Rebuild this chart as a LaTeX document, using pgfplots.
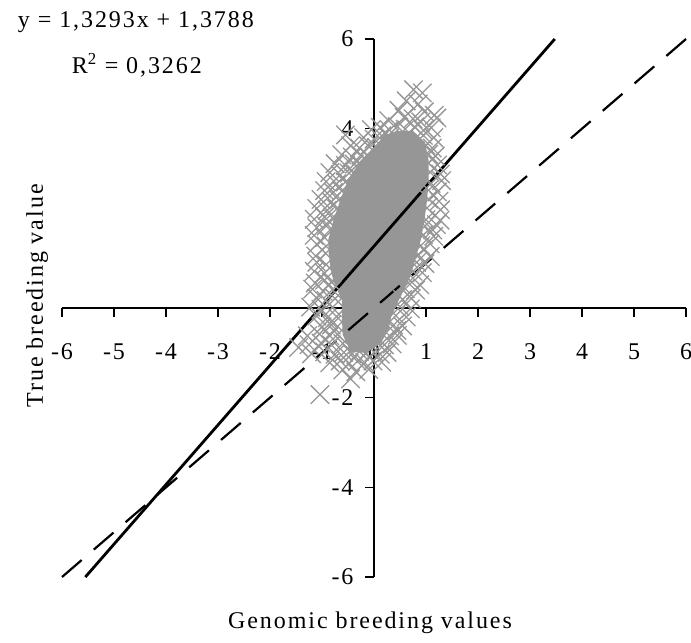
\documentclass[border=0pt]{standalone}
\usepackage{fontspec}
\setmainfont{Liberation Serif}[LetterSpace=8]
\usepackage{pgfplots}
\pgfplotsset{compat=1.18}
\definecolor{crossgray}{RGB}{150,150,150}

\begin{document}
\begin{tikzpicture}
\begin{axis}[
    width=624pt, height=538pt, scale only axis,
    xmin=-6, xmax=6, ymin=-6, ymax=6,
    enlargelimits=false,
    axis lines*=middle,
    axis line style={line width=1.5pt, black},
    tick align=outside,
    major tick length=9pt,
    tick style={line width=1.5pt, black},
    xtick={-6,-5,-4,-3,-2,-1,0,1,2,3,4,5,6},
    xticklabels={-6,-5,-4,-3,-2,-1,0,1,2,3,4,5,6},
    ytick={-6,-4,-2,0,2,4,6},
    yticklabels={-6,-4,-2,0,2,4,6},
    hide obscured x ticks=false, hide obscured y ticks=false,
    tick label style={font=\fontsize{24}{28}\selectfont},
    xticklabel style={yshift=-23pt},
    yticklabel style={xshift=-8pt},
    clip=false,
]
% dense centre of the cloud, where the crosses overlap completely
\addplot[fill=crossgray, draw=none] coordinates {
(0.45,3.95) (0.75,3.95) (0.98,3.70) (1.05,3.30) (1.05,2.86) (1.02,2.40) (0.97,1.96) (0.90,1.52)
(0.80,1.10) (0.70,0.70) (0.48,0.18) (0.33,-0.20) (0.28,-0.49) (0.12,-0.80) (-0.15,-1.00) (-0.45,-0.98)
(-0.60,-0.60) (-0.62,-0.20) (-0.62,0.18) (-0.78,0.60) (-0.83,0.85) (-0.87,1.20) (-0.88,1.52) (-0.78,1.96)
(-0.65,2.40) (-0.50,2.86) (-0.25,3.30) (0.05,3.65) (0.20,3.85) (0.45,3.95)
};
% crosses around the centre and outliers
\addplot[only marks, mark=x, mark size=13pt, mark options={line width=1.3pt, draw=crossgray}] coordinates {
(0.76,4.87) (0.93,4.80) (0.62,4.62) (0.85,4.55) (0.48,4.41) (0.97,4.38) (1.16,4.30)
(0.28,4.18) (0.58,4.25) (0.75,4.22) (0.90,4.15) (1.21,4.24)
(-0.05,3.98) (0.12,4.03) (0.30,3.97) (0.45,4.05) (0.60,3.99) (0.78,4.04) (0.95,3.96) (1.10,4.02)
(-0.55,3.86) (-0.20,3.80) (0.00,3.77) (0.15,3.84) (0.30,3.79) (0.95,3.85) (1.15,3.80)
(-0.45,3.62) (-0.28,3.57) (-0.10,3.61) (0.05,3.58) (1.00,3.63) (1.12,3.57)
(-0.62,3.42) (-0.42,3.37) (-0.25,3.41) (-0.10,3.38) (1.05,3.43) (1.18,3.39)
(-0.75,3.22) (-0.55,3.18) (-0.38,3.21) (-0.22,3.17) (1.05,3.23) (1.22,3.19)
(-0.85,3.02) (-0.65,2.97) (-0.48,3.01) (-0.35,2.98) (1.08,3.03) (1.28,2.99)
(-0.92,2.82) (-0.72,2.77) (-0.55,2.81) (1.10,2.78) (1.30,2.84)
(-0.95,2.62) (-0.78,2.58) (-0.62,2.61) (1.05,2.63) (1.22,2.59)
(-1.02,2.42) (-0.82,2.37) (-0.68,2.41) (1.05,2.43) (1.25,2.38)
(-1.10,2.22) (-0.90,2.18) (-0.72,2.21) (1.02,2.23) (1.28,2.19)
(-1.15,1.98) (-0.95,2.03) (-0.80,2.01) (1.00,1.97) (1.27,1.96)
(-1.10,1.79) (-0.92,1.83) (-0.82,1.77) (0.98,1.83) (1.13,1.74) (1.20,1.86)
(-1.15,1.62) (-0.95,1.57) (0.95,1.63) (1.15,1.60)
(-1.10,1.42) (-0.92,1.38) (0.90,1.39) (1.08,1.43)
(-1.12,1.16) (-0.93,1.22) (0.85,1.19) (0.96,1.30) (1.08,1.15)
(-1.10,1.02) (-0.92,0.97) (0.82,1.02) (0.98,0.99)
(-1.15,0.82) (-0.95,0.78) (0.75,0.82) (0.93,0.79)
(-1.13,0.56) (-0.95,0.62) (-0.82,0.58) (0.70,0.61) (0.88,0.52)
(-1.18,0.42) (-0.98,0.38) (-0.80,0.41) (0.60,0.43) (0.80,0.40)
(-1.10,0.22) (-0.92,0.17) (-0.75,0.21) (0.55,0.19) (0.72,0.21)
(-1.22,0.02) (-1.02,-0.03) (-0.80,0.01) (0.50,0.03) (0.70,-0.02)
(-1.10,-0.18) (-0.90,-0.22) (-0.72,-0.19) (0.42,-0.17) (0.62,-0.20)
(-1.00,-0.42) (-0.82,-0.38) (-0.70,-0.41) (0.38,-0.38) (0.44,-0.50) (0.55,-0.40)
(-1.28,-0.62) (-1.05,-0.58) (-0.85,-0.62) (-0.70,-0.59) (0.30,-0.62) (0.45,-0.61)
(-1.45,-0.88) (-1.25,-0.82) (-1.02,-0.78) (-0.82,-0.82) (-0.60,-0.79) (0.20,-0.82) (0.35,-0.80)
(-1.20,-1.02) (-0.95,-0.98) (-0.75,-1.03) (-0.58,-0.99) (-0.42,-1.02) (-0.28,-0.97) (-0.15,-1.01) (0.00,-0.98) (0.12,-1.03) (0.25,-0.99)
(-0.85,-1.22) (-0.65,-1.18) (-0.48,-1.23) (-0.32,-1.19) (-0.18,-1.22) (-0.02,-1.18) (0.15,-1.21)
(-0.60,-1.38) (-0.35,-1.42) (-0.10,-1.37) (-0.45,-1.58) (-1.04,-1.93)
};
% regression line y = 1.3293x + 1.3788
\addplot[black, line width=2.8pt] coordinates {(-5.551,-6) (3.476,6)};
% line y = x
\addplot[black, line width=2.2pt, dash pattern=on 26pt off 16pt] coordinates {(-6,-6) (6,6)};

\node[anchor=base, font=\fontsize{24}{28}\selectfont] at (axis cs:-4.58,6.25) {y = 1,3293x + 1,3788};
\node[anchor=base, font=\fontsize{24}{28}\selectfont] at (axis cs:-4.56,5.24) {R\textsuperscript{2} = 0,3262};
\node[rotate=90, anchor=center, font=\fontsize{24}{28}\selectfont] at (axis cs:-6.48,0.27) {True breeding value};
\node[anchor=base, font=\fontsize{24}{28}\selectfont] at (axis cs:-0.077,-7.14) {Genomic breeding values};

\coordinate (bbsw) at (axis cs:-7.192,-7.450);
\coordinate (bbne) at (axis cs:6.096,6.870);
\end{axis}
\pgfresetboundingbox
\useasboundingbox (bbsw) rectangle (bbne);
\end{tikzpicture}
\end{document}
